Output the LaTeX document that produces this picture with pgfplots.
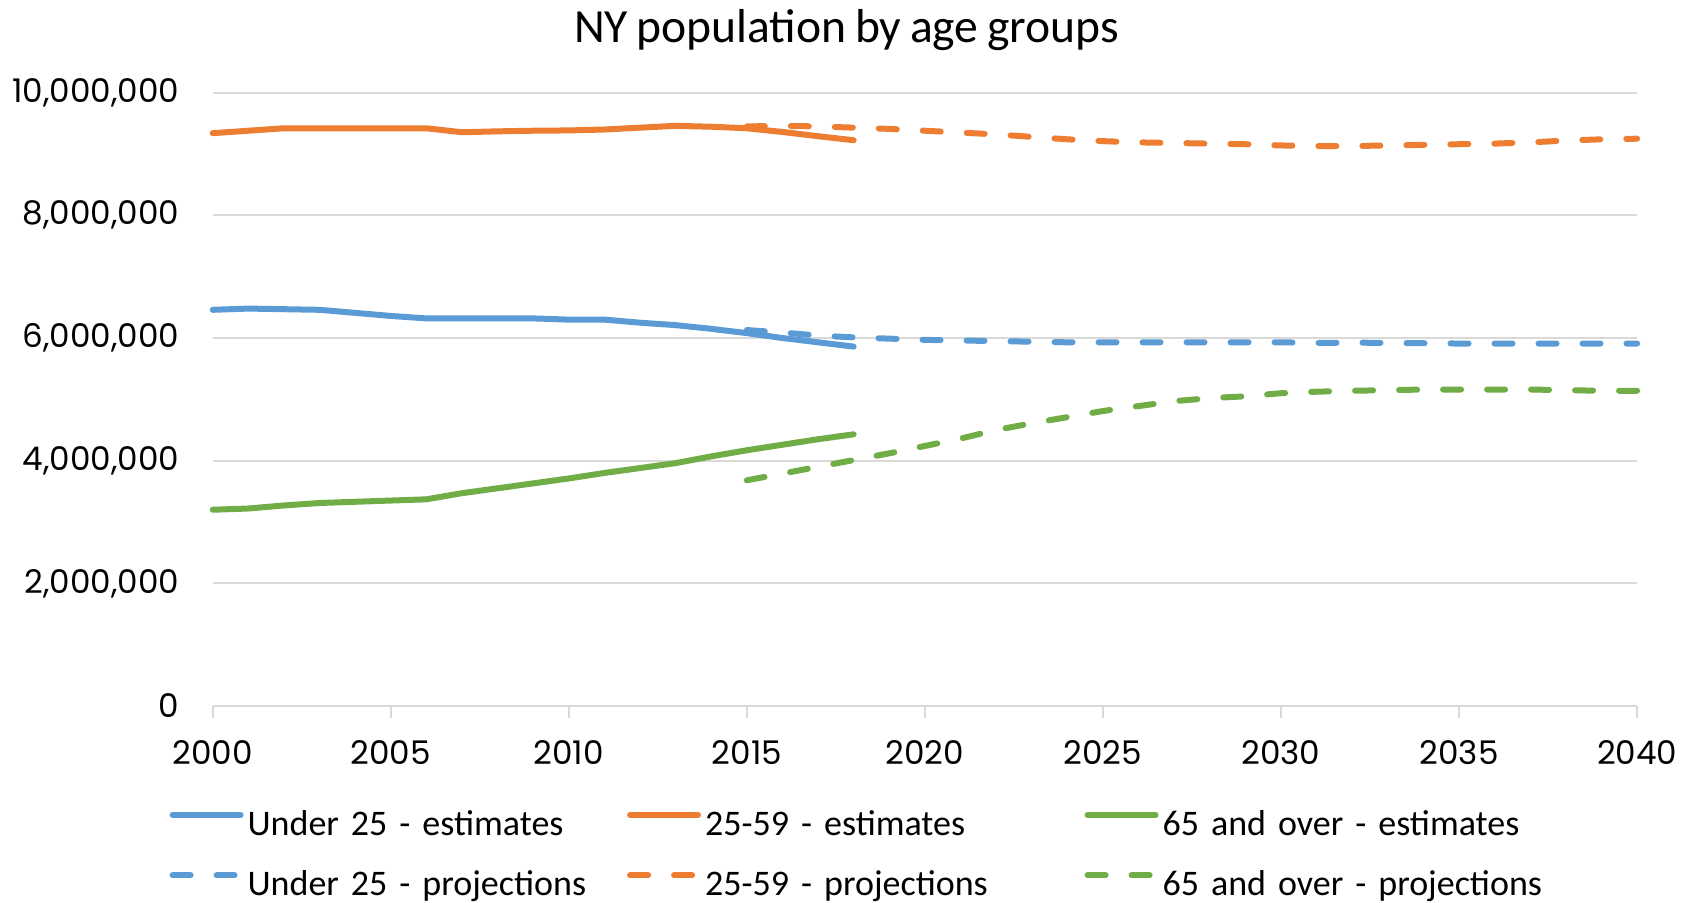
\documentclass[border=0pt]{standalone}
\usepackage{pgfplots}
\pgfplotsset{compat=1.18}
\usepackage{fontspec}
\setmainfont{Carlito}[WordSpace=0.8]
\newfontfamily\tickfont{Poppins}
\definecolor{cblue}{HTML}{5B9BD5}
\definecolor{corange}{HTML}{ED7D31}
\definecolor{cgreen}{HTML}{70AD47}
\definecolor{gridgray}{HTML}{D9D9D9}
\tikzset{ser/.style={line width=3pt, line cap=round, line join=round},
  proj/.style={dash pattern=on 9pt off 13pt}}
\begin{document}
\begin{tikzpicture}
\useasboundingbox (0,0) rectangle (846.5pt,451pt);
\begin{axis}[
  at={(106.35pt,98pt)}, anchor=south west,
  scale only axis, width=712.2pt, height=306.65pt,
  xmin=2000, xmax=2040, ymin=0, ymax=10000000,
  clip=false,
  axis x line*=bottom, axis y line*=left,
  x axis line style={-, draw=gridgray, line width=0.9pt},
  y axis line style={draw=none},
  xtick={2000,2005,...,2040},
  ytick={0,2000000,...,10000000},
  scaled y ticks=false,
  /pgf/number format/.cd, fixed, precision=0, 1000 sep={,}, assume math mode=true,
  /pgfplots/.cd,
  xticklabel={\pgfmathprintnumber[1000 sep={}]{\tick}},
  tick align=outside,
  major tick length=6pt,
  xtick style={draw=gridgray, line width=0.9pt},
  ytick style={draw=none},
  ymajorgrids,
  grid style={gridgray, line width=0.9pt},
  ticklabel style={font=\tickfont\fontsize{16.3}{19}\selectfont, inner sep=0pt},
  yticklabel style={anchor=east, xshift=-10.6pt},
  xticklabel style={anchor=center, yshift=-17.4pt},
  title={NY population by age groups},
  title style={at={(0.445,1.0827)}, anchor=center, font=\fontsize{23.8}{28}\selectfont, inner sep=0pt},
  legend columns=3,
  legend image code/.code={\draw[#1] (0pt,5.5pt) -- (34pt,5.5pt);},
  legend style={at={(-0.03026,-0.168)}, anchor=north west, draw=none, fill=none,
    inner sep=0pt, outer sep=0pt, row sep=13.2pt,
    font=\fontsize{18}{22}\selectfont,
    nodes={inner sep=0pt, text height=13pt, text depth=4pt, text width=200pt, align=left},
    /tikz/every odd column/.append style={column sep=2pt},
    /tikz/every even column/.append style={column sep=-10.25pt}},
]
\addplot[cblue, ser] coordinates {
(2000,6460000)(2001,6480000)(2002,6470000)(2003,6460000)(2004,6410000)(2005,6360000)
(2006,6320000)(2007,6320000)(2008,6320000)(2009,6320000)(2010,6300000)(2011,6300000)
(2012,6250000)(2013,6210000)(2014,6150000)(2015,6080000)(2016,6000000)(2017,5930000)(2018,5860000)};
\addlegendentry{Under 25 - estimates}
\addplot[corange, ser] coordinates {
(2000,9340000)(2001,9380000)(2002,9420000)(2003,9420000)(2004,9420000)(2005,9420000)
(2006,9420000)(2007,9355000)(2008,9370000)(2009,9380000)(2010,9385000)(2011,9400000)
(2012,9430000)(2013,9460000)(2014,9445000)(2015,9420000)(2016,9360000)(2017,9290000)(2018,9225000)};
\addlegendentry{25-59 - estimates}
\addplot[cgreen, ser] coordinates {
(2000,3200000)(2001,3220000)(2002,3270000)(2003,3310000)(2004,3330000)(2005,3350000)
(2006,3370000)(2007,3470000)(2008,3550000)(2009,3630000)(2010,3710000)(2011,3800000)
(2012,3880000)(2013,3960000)(2014,4070000)(2015,4170000)(2016,4260000)(2017,4350000)(2018,4430000)};
\addlegendentry{65 and over - estimates}
\addplot[cblue, ser, proj] coordinates {
(2015,6130000)(2016,6090000)(2017,6040000)(2018,6010000)(2019,5990000)(2020,5970000)
(2021,5960000)(2022,5950000)(2023,5940000)(2024,5930000)(2025,5930000)(2026,5930000)
(2027,5930000)(2028,5930000)(2029,5930000)(2030,5930000)(2031,5920000)(2032,5925000)
(2033,5920000)(2034,5915000)(2035,5910000)(2036,5910000)(2037,5910000)(2038,5910000)
(2039,5910000)(2040,5910000)};
\addlegendentry{Under 25 - projections}
\addplot[corange, ser, proj] coordinates {
(2015,9450000)(2016,9460000)(2017,9450000)(2018,9430000)(2019,9410000)(2020,9380000)
(2021,9350000)(2022,9320000)(2023,9280000)(2024,9240000)(2025,9210000)(2026,9190000)
(2027,9180000)(2028,9170000)(2029,9160000)(2030,9140000)(2031,9130000)(2032,9130000)
(2033,9140000)(2034,9150000)(2035,9160000)(2036,9170000)(2037,9190000)(2038,9220000)
(2039,9240000)(2040,9250000)};
\addlegendentry{25-59 - projections}
\addplot[cgreen, ser, proj] coordinates {
(2015,3680000)(2016,3790000)(2017,3900000)(2018,4010000)(2019,4120000)(2020,4240000)
(2021,4360000)(2022,4500000)(2023,4610000)(2024,4710000)(2025,4810000)(2026,4890000)
(2027,4970000)(2028,5020000)(2029,5050000)(2030,5100000)(2031,5125000)(2032,5140000)
(2033,5150000)(2034,5160000)(2035,5160000)(2036,5160000)(2037,5160000)(2038,5150000)
(2039,5140000)(2040,5140000)};
\addlegendentry{65 and over - projections}
\end{axis}
\end{tikzpicture}
\end{document}
